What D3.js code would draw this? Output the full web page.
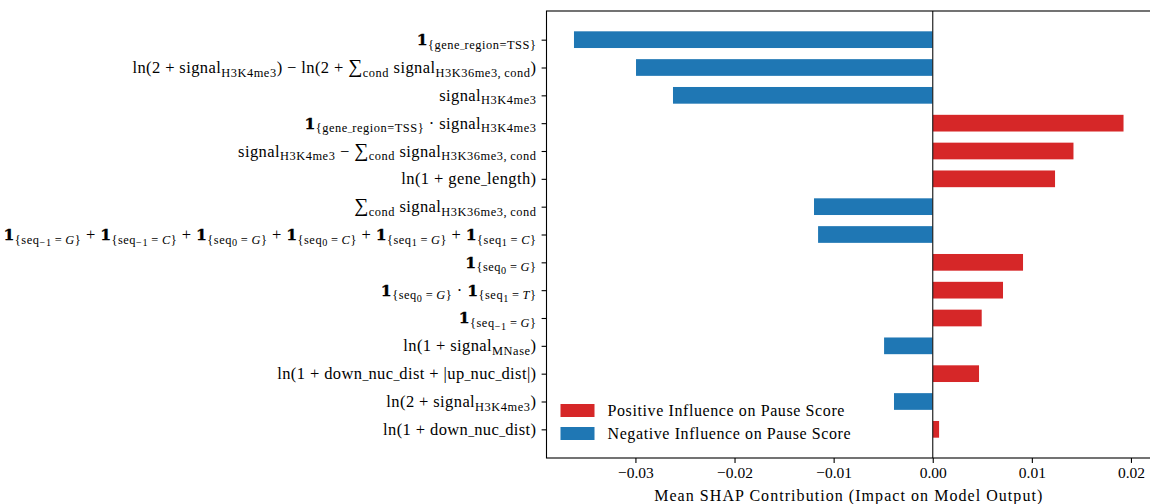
<!DOCTYPE html>
<html>
<head>
<meta charset="utf-8">
<script src="https://cdn.jsdelivr.net/npm/d3@7"></script>
<style>
  html, body { margin: 0; padding: 0; background: #fff; }
  svg { display: block; }
  text { font-family: "Liberation Serif", "DejaVu Serif", serif; fill: #000; }
</style>
</head>
<body>
<svg id="chart" width="1150" height="504"></svg>
<script>
// Feature labels in a small TeX-like markup: _{...} subscript, \it{...} italic,
// \sum summation sign, \one indicator symbol, \_ \{ \} literal characters.
const features = [
  "\\one_{\\{gene\\_region=TSS\\}}",
  "ln(2 + signal_{H3K4me3}) − ln(2 + \\sum_{cond} signal_{H3K36me3, cond})",
  "signal_{H3K4me3}",
  "\\one_{\\{gene\\_region=TSS\\}} · signal_{H3K4me3}",
  "signal_{H3K4me3} − \\sum_{cond} signal_{H3K36me3, cond}",
  "ln(1 + gene\\_length)",
  "\\sum_{cond} signal_{H3K36me3, cond}",
  "\\one_{\\{seq_{−1} = \\it{G}\\}} + \\one_{\\{seq_{−1} = \\it{C}\\}} + \\one_{\\{seq_{0} = \\it{G}\\}} + \\one_{\\{seq_{0} = \\it{C}\\}} + \\one_{\\{seq_{1} = \\it{G}\\}} + \\one_{\\{seq_{1} = \\it{C}\\}}",
  "\\one_{\\{seq_{0} = \\it{G}\\}}",
  "\\one_{\\{seq_{0} = \\it{G}\\}} · \\one_{\\{seq_{1} = \\it{T}\\}}",
  "\\one_{\\{seq_{−1} = \\it{G}\\}}",
  "ln(1 + signal_{MNase})",
  "ln(1 + down\\_nuc\\_dist + |up\\_nuc\\_dist|)",
  "ln(2 + signal_{H3K4me3})",
  "ln(1 + down\\_nuc\\_dist)"
];

// Mean SHAP contribution per feature
const shapValues = [
  -0.03620, -0.02994, -0.02621, 0.01925, 0.01420, 0.01234, -0.01198, -0.01157,
   0.00911,  0.00709,  0.00494, -0.00491, 0.00467, -0.00391, 0.00064
];

const xTicks = [-0.03, -0.02, -0.01, 0.00, 0.01, 0.02];
const legendLabels = ["Positive Influence on Pause Score", "Negative Influence on Pause Score"];
const xTitle = "Mean SHAP Contribution (Impact on Model Output)";

const POS = "#d62728", NEG = "#1f77b4";

const svg = d3.select("#chart");
const plot = { left: 546.5, right: 1151, top: 11, bottom: 458 };

// x domain: data extent padded by 5% on each side
const lo = d3.min(shapValues), hi = d3.max(shapValues);
const pad = (hi - lo) * 0.05;
const x = d3.scaleLinear().domain([lo - pad, hi + pad]).range([plot.left, plot.right]);

// y: one row per feature, bars 0.6 of a row, 5% margin on the bar extent
const n = features.length, barH = 0.6;
const ySpan = (n - 1) + barH, yPad = ySpan * 0.05;
const y = d3.scaleLinear()
  .domain([-barH / 2 - yPad, (n - 1) + barH / 2 + yPad])
  .range([plot.top, plot.bottom]);

// bars
svg.append("g").selectAll("rect").data(shapValues).join("rect")
  .attr("x", d => Math.min(x(0), x(d)))
  .attr("width", d => Math.abs(x(d) - x(0)))
  .attr("y", (d, i) => y(i - barH / 2))
  .attr("height", (d, i) => y(i + barH / 2) - y(i - barH / 2))
  .attr("fill", d => d >= 0 ? POS : NEG);

// zero reference line
svg.append("line")
  .attr("x1", x(0)).attr("x2", x(0))
  .attr("y1", plot.top).attr("y2", plot.bottom)
  .attr("stroke", "#222").attr("stroke-width", 1.2);

// frame
svg.append("rect")
  .attr("x", plot.left).attr("y", plot.top)
  .attr("width", plot.right - plot.left).attr("height", plot.bottom - plot.top)
  .attr("fill", "none").attr("stroke", "#000").attr("stroke-width", 1.1);

// x axis
const xAxis = svg.append("g")
  .attr("transform", `translate(0,${plot.bottom})`)
  .call(d3.axisBottom(x).tickValues(xTicks).tickFormat(d3.format(".2f")).tickSize(4.9).tickPadding(4));
xAxis.select(".domain").remove();
xAxis.selectAll(".tick line").attr("stroke", "#000").attr("stroke-width", 1.1);
xAxis.selectAll(".tick text")
  .attr("font-family", "Liberation Serif, serif").attr("font-size", 15.5).attr("fill", "#000");

svg.append("text")
  .attr("x", (plot.left + plot.right) / 2).attr("y", 501)
  .attr("text-anchor", "middle").attr("font-size", 16).attr("letter-spacing", 1.05)
  .text(xTitle);

// y axis ticks
const yAxis = svg.append("g")
  .attr("transform", `translate(${plot.left},0)`)
  .call(d3.axisLeft(y).tickValues(d3.range(n)).tickFormat("").tickSize(4.9));
yAxis.select(".domain").remove();
yAxis.selectAll(".tick line").attr("stroke", "#000").attr("stroke-width", 1.1);

// TeX-like markup -> runs of {t, lvl, it, kind}
function parseTex(s) {
  const runs = [];
  let i = 0;
  function walk(lvl, it, inGroup) {
    let buf = "";
    const flush = () => { if (buf) { runs.push({ t: buf, lvl, it }); buf = ""; } };
    while (i < s.length) {
      const c = s[i];
      if (c === "}" && inGroup) { i++; flush(); return; }
      if (c === "\\") {
        const m = s.slice(i).match(/^\\([a-zA-Z]+|.)/);
        i += m[0].length;
        if (m[1] === "it") { flush(); i++; walk(lvl, true, true); }
        else if (m[1] === "sum") { flush(); runs.push({ t: "∑", lvl, it, kind: "sum" }); }
        else if (m[1] === "one") { flush(); runs.push({ t: "1", lvl, it, kind: "one" }); }
        else if (m[1] === "_") { flush(); runs.push({ t: "_", lvl, it, kind: "us" }); }
        else buf += m[1];
        continue;
      }
      if (c === "_") {
        flush(); i++;
        if (s[i] === "{") { i++; walk(lvl + 1, it, true); }
        else { runs.push({ t: s[i], lvl: lvl + 1, it }); i++; }
        continue;
      }
      // spaces inside subscripts are thin spaces
      buf += (c === " " && lvl > 0) ? "\u2009" : c; i++;
    }
    flush();
  }
  walk(0, false, false);
  return runs;
}

const sizes = [16.5, 12.4, 10.2];
const shifts = [0, 3.6, 6.4];
const spacing = [0.4, 0.55, 0.7];

const labels = svg.append("g");
features.forEach((f, i) => {
  const t = labels.append("text")
    .attr("x", plot.left - 10)
    .attr("y", y(i) + 5.5)
    .attr("text-anchor", "end");
  let cur = 0;
  parseTex(f).forEach(r => {
    const target = shifts[r.lvl];
    let fs = sizes[r.lvl], ls = spacing[r.lvl];
    if (r.kind === "sum") fs *= 1.2;
    if (r.kind === "us") { fs *= 0.72; ls = 0; }
    const ts = t.append("tspan")
      .attr("dy", target - cur)
      .attr("font-size", fs)
      .attr("letter-spacing", ls)
      .style("font-style", r.it ? "italic" : "normal")
      .text(r.t);
    if (r.kind === "one") {
      // indicator symbol: a heavy numeral with a light outline
      ts.attr("font-family", "DejaVu Serif, serif").attr("font-weight", "bold")
        .attr("font-size", fs * 0.95)
        .attr("stroke", "#000").attr("stroke-width", 0.3);
    }
    cur = target;
  });
});

// legend
const leg = svg.append("g").attr("transform", `translate(${plot.left + 14},${plot.bottom - 54})`);
[POS, NEG].forEach((c, k) => {
  leg.append("rect").attr("x", 0).attr("y", k * 23).attr("width", 34).attr("height", 13).attr("fill", c);
  leg.append("text").attr("x", 47).attr("y", k * 23 + 12)
    .attr("font-size", 16).attr("letter-spacing", 0.6).text(legendLabels[k]);
});
</script>
</body>
</html>
